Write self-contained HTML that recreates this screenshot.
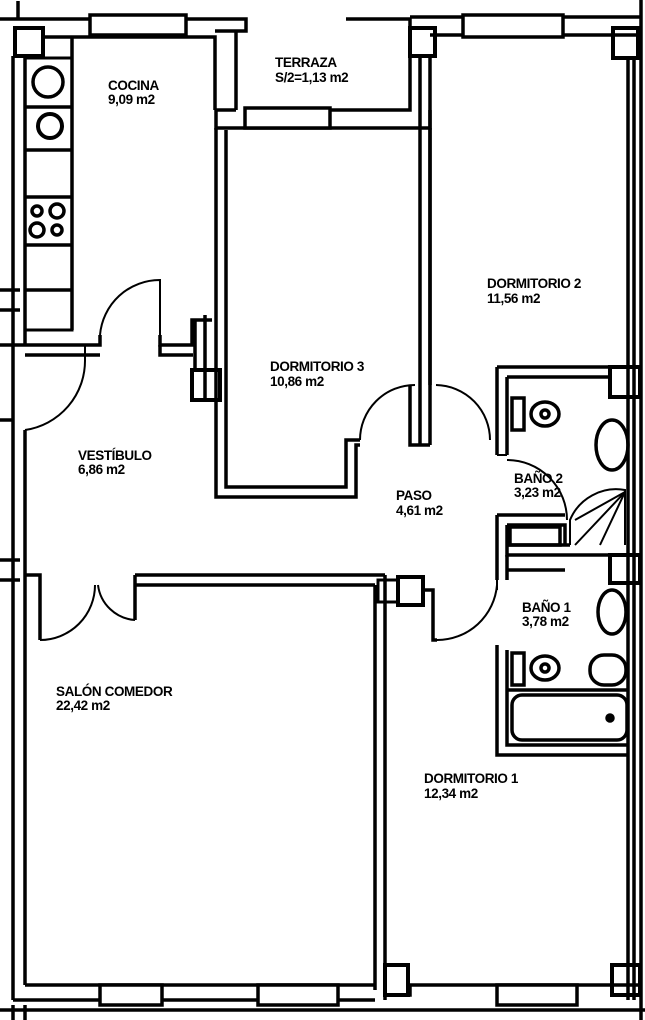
<!DOCTYPE html>
<html><head><meta charset="utf-8"><style>
html,body{margin:0;padding:0;background:#fff;}
svg{display:block}
text{font-family:"Liberation Sans",sans-serif;font-size:13.5px;font-weight:bold;fill:#000;letter-spacing:-0.4px}
</style></head><body>
<svg width="645" height="1020" viewBox="0 0 645 1020" xmlns="http://www.w3.org/2000/svg">
<g fill="none" stroke="#000" stroke-width="3.5">
<path d="M0,19 H246 V31 H215"/>
<path d="M18,1 V19"/>
<rect x="15" y="28" width="28" height="28" stroke-width="4"/>
<path d="M43,37 H215 V110"/>
<rect x="90" y="15" width="96" height="20" fill="#fff"/>
<path d="M13,56 V345"/><path d="M25,56 V345"/>
<rect x="25" y="58" width="47" height="272" stroke-width="3"/>
<path d="M25,107 H72 M25,150 H72 M25,197 H72 M25,245 H72 M25,290 H72"/>
<circle cx="48" cy="82" r="15"/><circle cx="50" cy="126" r="12" stroke-width="4"/>
<circle cx="37" cy="211" r="5"/><circle cx="57" cy="211" r="7"/><circle cx="37" cy="230" r="7"/><circle cx="57" cy="230" r="5"/>
<path d="M72,37 V330"/>
<path d="M0,290 H20 M0,310 H20"/>
<path d="M25,345 H100 V335 M25,355 H100"/>
<path d="M160,335 V345 H192 V320 H212"/><path d="M160,345 V355 H193"/>
<path d="M100,335 A60,60 0 0 1 160,280 V335" stroke-width="2"/>
<path d="M205,315 V400 M195,320 V370"/>
<rect x="192" y="370" width="28" height="30" stroke-width="4"/>
<path d="M346,19 H410 V110 H245"/><path d="M236,31 V110 M236,110 H216"/>
<path d="M410,17 H640 M430,35 H640"/>
<rect x="463" y="15" width="100" height="22" fill="#fff"/>
<rect x="410" y="28" width="25" height="28" stroke-width="4"/>
<rect x="613" y="28" width="25" height="30" stroke-width="4"/>
<path d="M641,0 V1020"/>
<path d="M216,110 V128 H430 V110"/>
<rect x="245" y="108" width="85" height="20" fill="#fff"/>
<path d="M216,128 V497 H356 V445 H360"/><path d="M226,130 V487 H346 V440 H360"/>
<path d="M420,128 V445 M430,128 V445 M410,385 V445 H430"/>
<path d="M360,440 A55,55 0 0 1 415,385" stroke-width="2"/>
<path d="M436,385 A55,55 0 0 1 490,440" stroke-width="2"/>
<path d="M430,56 V385 M420,56 V128"/>
<path d="M628,58 V1000 M634,58 V1000"/>
<path d="M497,367 V455 M507,377 V455 M497,367 H612 M507,377 H612"/>
<rect x="610" y="367" width="30" height="30" stroke-width="4"/>
<path d="M497,455 H507 M507,460 A60,60 0 0 1 567,520" stroke-width="2"/>
<rect x="512" y="398" width="12" height="32"/><ellipse cx="545" cy="414" rx="14" ry="12"/><circle cx="545" cy="414" r="4"/>
<ellipse cx="612" cy="445" rx="16" ry="25"/>
<path d="M570,545 V520 A50,50 0 0 1 625,490 V545 M625,492 L575,545 M625,492 L600,545 M625,492 L575,520" stroke-width="2"/>
<path d="M497,515 H565 M507,525 H565 V545 M497,515 V580 M507,525 V555 H628 M507,545 H570"/>
<rect x="510" y="527" width="50" height="18"/>
<path d="M507,555 V580 M507,570 H565"/>
<rect x="610" y="555" width="30" height="28" stroke-width="4"/>
<path d="M497,580 V590 M437,640 A60,60 0 0 0 497,585" stroke-width="2"/>
<path d="M497,645 V755 H628 M507,650 V745 H628"/>
<path d="M507,690 H628"/>
<ellipse cx="612" cy="612" rx="14" ry="22"/>
<rect x="512" y="653" width="12" height="32"/><ellipse cx="545" cy="668" rx="14" ry="12"/><circle cx="545" cy="668" r="4"/>
<rect x="590" y="655" width="36" height="30" rx="14"/>
<rect x="512" y="695" width="115" height="45" rx="10"/>
<circle cx="610" cy="718" r="3" fill="#000"/>
<path d="M0,345 H25 M13,345 V580 M25,430 V580 M0,420 H13"/>
<path d="M25,430 A70,70 0 0 0 85,360 V345" stroke-width="2"/>
<path d="M0,560 H20 M0,580 H20 M13,580 V1000 M25,580 V985"/>
<path d="M25,575 H40 V640 M135,575 V620 M135,575 H385 M135,585 H375"/>
<path d="M40,640 A55,55 0 0 0 95,585 M135,620 A40,40 0 0 1 98,585" stroke-width="2"/>
<path d="M385,575 V1000 M375,585 V990"/>
<rect x="378" y="580" width="20" height="22" stroke-width="3"/>
<rect x="398" y="577" width="25" height="28" stroke-width="4"/>
<path d="M423,590 H433 V640 H437"/>
<path d="M13,1000 H375 M25,985 H375 M385,995 H410 V985 H640"/>
<rect x="100" y="985" width="62" height="20" fill="#fff"/>
<rect x="258" y="985" width="80" height="20" fill="#fff"/>
<rect x="497" y="985" width="80" height="20" fill="#fff"/>
<rect x="385" y="965" width="23" height="30" stroke-width="4"/>
<rect x="612" y="965" width="28" height="30" stroke-width="4"/>
<path d="M0,1010 H645"/>
<path d="M13,1005 V1020 M25,1005 V1020"/>
</g>
<text x="108" y="90">COCINA</text><text x="108" y="104">9,09 m2</text>
<text x="275" y="67">TERRAZA</text><text x="275" y="82">S/2=1,13 m2</text>
<text x="487" y="288">DORMITORIO 2</text><text x="487" y="303">11,56 m2</text>
<text x="270" y="371">DORMITORIO 3</text><text x="270" y="386">10,86 m2</text>
<text x="78" y="460">VESTÍBULO</text><text x="78" y="474">6,86 m2</text>
<text x="396" y="500">PASO</text><text x="396" y="515">4,61 m2</text>
<text x="514" y="483">BAÑO 2</text><text x="514" y="497">3,23 m2</text>
<text x="522" y="612">BAÑO 1</text><text x="522" y="626">3,78 m2</text>
<text x="56" y="696">SALÓN COMEDOR</text><text x="56" y="710">22,42 m2</text>
<text x="424" y="783">DORMITORIO 1</text><text x="424" y="798">12,34 m2</text>
</svg>
</body></html>
